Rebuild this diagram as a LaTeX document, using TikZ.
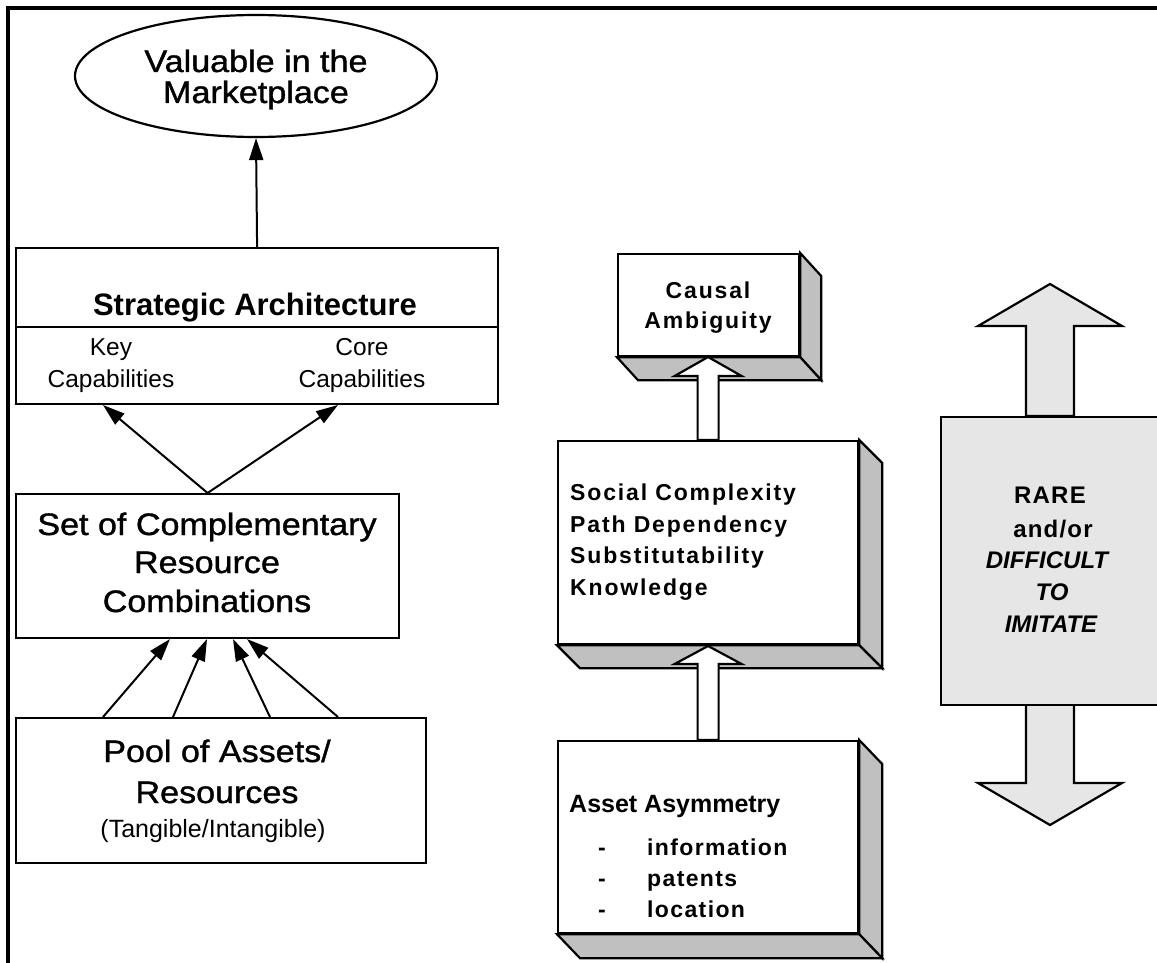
\documentclass[tikz,border=0pt]{standalone}
\usepackage{fontspec}
\setmainfont{Liberation Sans}
\newfontfamily\widefont[FakeStretch=1.1,FakeBold=1.2]{Liberation Sans}
\newfontfamily\spacedfont[LetterSpace=8]{Liberation Sans}
\newfontfamily\itemfont[LetterSpace=6]{Liberation Sans}
\newfontfamily\rarefont[LetterSpace=5]{Liberation Sans}
\usetikzlibrary{arrows.meta,calc,shapes.geometric}
\definecolor{sidegray}{HTML}{C0C0C0}
\definecolor{panelgray}{HTML}{E6E6E6}
\begin{document}
\begin{tikzpicture}[x=1pt,y=-1pt,
  box/.style={draw,line width=2.2pt,inner sep=0pt,anchor=north west,fill=white},
  face/.style={fill=sidegray,draw,line width=2.2pt,line join=miter},
  arr/.style={line width=2pt,-{Triangle[length=22pt,width=14pt]}},
  hollow/.style={draw,fill=white,line width=2.2pt,line join=miter},
  bigarrow/.style={draw,fill=panelgray,line width=2.2pt,line join=miter},
  txt/.style={inner sep=0pt,anchor=base},
  ltxt/.style={inner sep=0pt,anchor=base west},
  wide/.style={txt,font=\widefont\fontsize{31}{37}\selectfont},
  strong/.style={txt,font=\fontsize{31}{37}\selectfont\bfseries},
  capab/.style={txt,font=\fontsize{24.5}{29}\selectfont},
  note/.style={txt,font=\fontsize{25}{30}\selectfont},
  midtxt/.style={font=\spacedfont\fontsize{23}{28}\selectfont\bfseries},
  itemtxt/.style={font=\itemfont\fontsize{23}{28}\selectfont\bfseries},
  raretxt/.style={txt,font=\rarefont\fontsize{24}{29}\selectfont\bfseries},
  rareit/.style={txt,font=\fontsize{24}{29}\selectfont\bfseries\itshape}
]
\useasboundingbox (0,0) rectangle (1157,963);
\clip (0,0) rectangle (1157,963);

% frame
\draw[line width=4pt,line join=miter] (8,970) -- (8,8) -- (1170,8);

% ---------------- left column ----------------
\node[draw,ellipse,line width=2.2pt,inner sep=0pt,minimum width=362pt,minimum height=122pt] (val) at (256,76) {};
\node[wide] (val1) at (256,72) {Valuable in the};
\node[wide] (val2) at (256,103) {Marketplace};

\node[box,minimum width=482pt,minimum height=156pt] (strat) at (15,247) {};
\draw[line width=2.2pt] (15,327) -- (497,327);
\node[strong] (stratt) at (255,315) {Strategic Architecture};
\node[capab] (key1) at (111,355) {Key};
\node[capab] (key2) at (111,387) {Capabilities};
\node[capab] (core1) at (362,355) {Core};
\node[capab] (core2) at (362,387) {Capabilities};

\node[box,minimum width=383pt,minimum height=144pt] (set) at (15,493) {};
\node[wide] (set1) at (207,535) {Set of Complementary};
\node[wide] (set2) at (207,573) {Resource};
\node[wide] (set3) at (207,612) {Combinations};

\node[box,minimum width=410pt,minimum height=145pt] (pool) at (15,717) {};
\node[wide] (pool1) at (217,762) {Pool of Assets/};
\node[wide] (pool2) at (217,803) {Resources};
\node[note] (pool3) at (213,837) {(Tangible/Intangible)};

\draw[arr] (strat.north) -- (val.south);

\coordinate (keyin) at (103,405);
\coordinate (corein) at (338,405);
\draw[arr] (set.north) -- (keyin);
\draw[arr] (set.north) -- (corein);

\coordinate (p1) at (103,717);
\coordinate (p2) at (173,717);
\coordinate (p3) at (270,717);
\coordinate (p4) at (338,717);
\coordinate (s1) at (170,639);
\coordinate (s2) at (207,639);
\coordinate (s3) at (233,639);
\coordinate (s4) at (247,639);
\draw[arr] (p1) -- (s1);
\draw[arr] (p2) -- (s2);
\draw[arr] (p3) -- (s3);
\draw[arr] (p4) -- (s4);

% ---------------- middle column ----------------
% Causal Ambiguity
\node[box,minimum width=181pt,minimum height=102pt] (causal) at (617,253) {};
\draw[face] (causal.north east) -- ++(21,23) -- ($(causal.south east)+(21,23)$) -- (causal.south east) -- cycle;
\draw[face] (causal.south west) -- ++(21,23) -- ($(causal.south east)+(21,23)$) -- (causal.south east) -- cycle;
\node[midtxt,txt] (caus1) at (708,298) {Causal};
\node[midtxt,txt] (caus2) at (708,328) {Ambiguity};

% Social complexity box
\node[box,minimum width=300pt,minimum height=203pt] (social) at (557,440) {};
\draw[face] (social.north east) -- ++(23,23) -- ($(social.south east)+(23,23)$) -- (social.south east) -- cycle;
\draw[face] (social.south west) -- ++(23,23) -- ($(social.south east)+(23,23)$) -- (social.south east) -- cycle;
\node[midtxt,ltxt] (soc1) at (570,500) {Social Complexity};
\node[midtxt,ltxt] (soc2) at (570,532) {Path Dependency};
\node[midtxt,ltxt] (soc3) at (570,563) {Substitutability};
\node[midtxt,ltxt] (soc4) at (570,595) {Knowledge};

% Asset asymmetry box
\node[box,minimum width=300pt,minimum height=192pt] (asset) at (557,740) {};
\draw[face] (asset.north east) -- ++(23,24) -- ($(asset.south east)+(23,24)$) -- (asset.south east) -- cycle;
\draw[face] (asset.south west) -- ++(23,24) -- ($(asset.south east)+(23,24)$) -- (asset.south east) -- cycle;
\node[ltxt,font=\fontsize{25}{30}\selectfont\bfseries] (ast0) at (569,812) {Asset Asymmetry};
\node[itemtxt,txt] (d1) at (602,855) {-};
\node[itemtxt,txt] (d2) at (602,886) {-};
\node[itemtxt,txt] (d3) at (602,917) {-};
\node[itemtxt,ltxt] (ast1) at (647,855) {information};
\node[itemtxt,ltxt] (ast2) at (647,886) {patents};
\node[itemtxt,ltxt] (ast3) at (647,917) {location};

% hollow arrows
\draw[hollow] (social.north) ++(-10.5,0) -- ++(0,-64) -- ++(-23,0) -- ++(33.5,-19) -- ++(33.5,19) -- ++(-23,0) -- ++(0,64) -- cycle;
\draw[hollow] (asset.north) ++(-10.5,0) -- ++(0,-76) -- ++(-23,0) -- ++(33.5,-18) -- ++(33.5,18) -- ++(-23,0) -- ++(0,76) -- cycle;

% ---------------- right column ----------------
\coordinate (rtop) at (1050,416);
\coordinate (rbot) at (1050,704);
\draw[bigarrow] (rtop) ++(-24,0) -- ++(0,-90) -- ++(-48,0) -- ++(72,-42) -- ++(72,42) -- ++(-48,0) -- ++(0,90) -- cycle;
\draw[bigarrow] (rbot) ++(-24,0) -- ++(0,79) -- ++(-48,0) -- ++(72,42) -- ++(72,-42) -- ++(-48,0) -- ++(0,-79) -- cycle;
\node[box,fill=panelgray,minimum width=220pt,minimum height=288pt] (rare) at (940,416) {};
\node[raretxt] (r1) at (1050,503) {RARE};
\node[raretxt] (r2) at (1053,537) {and/or};
\node[rareit] (r3) at (1047,568) {DIFFICULT};
\node[rareit] (r4) at (1052,600) {TO};
\node[rareit] (r5) at (1051,632) {IMITATE};
\end{tikzpicture}
\end{document}
